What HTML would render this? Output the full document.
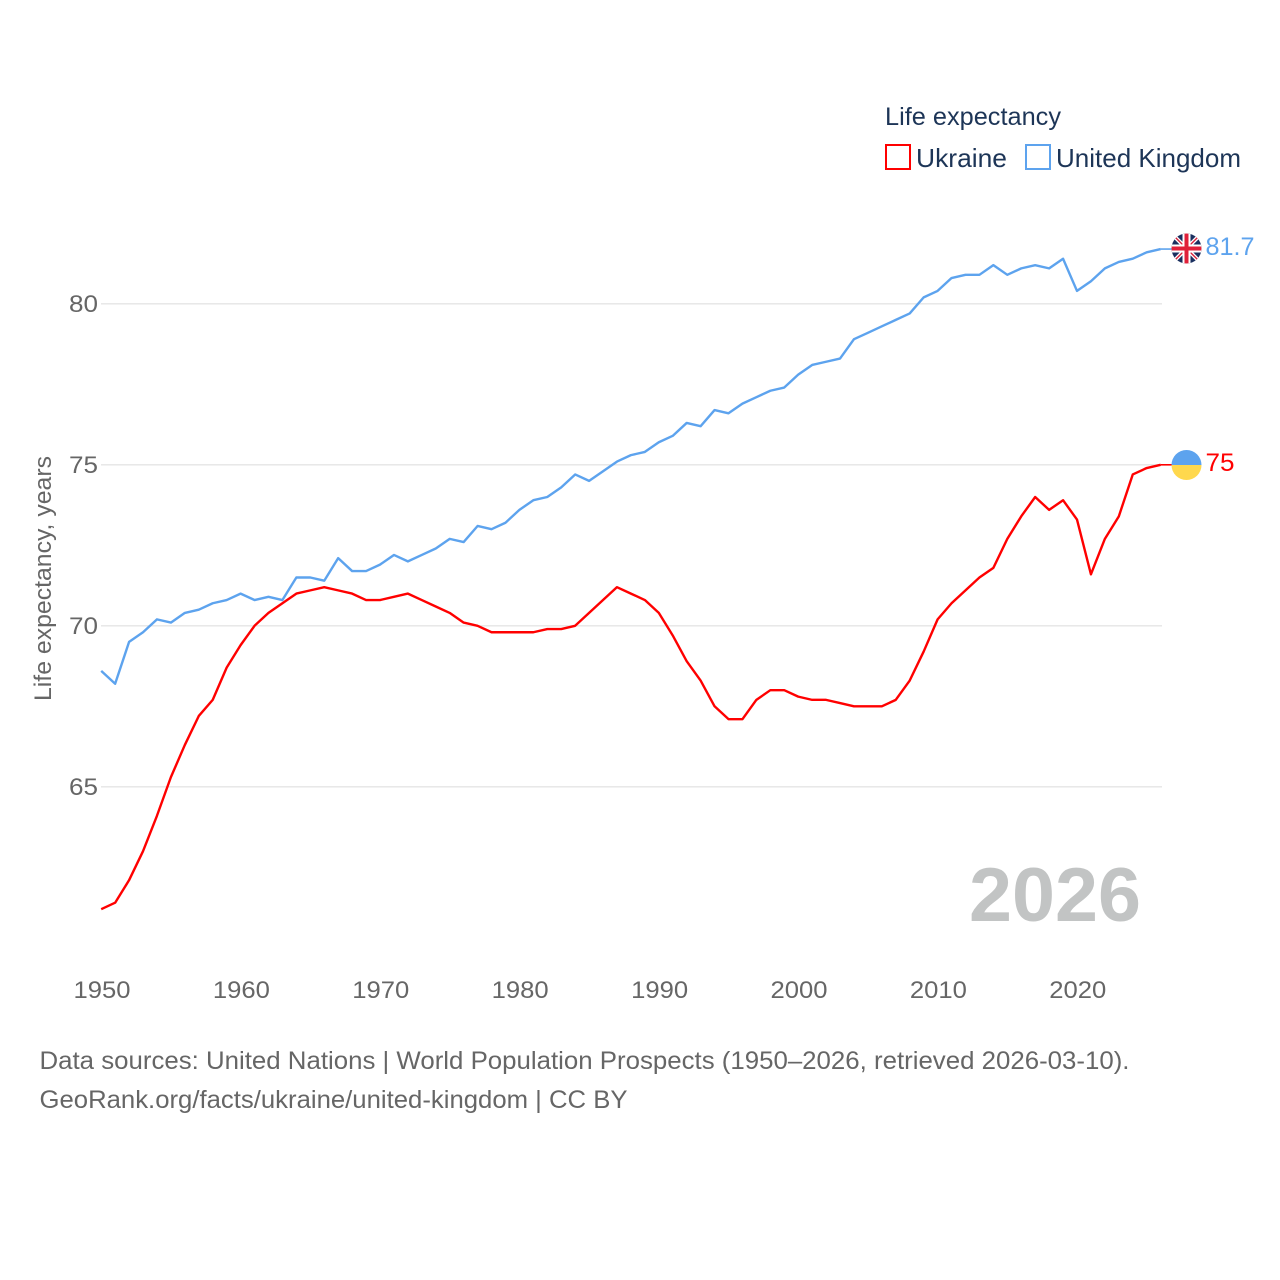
<!DOCTYPE html>
<html lang="en">
<head>
<meta charset="utf-8">
<title>Life expectancy: Ukraine vs United Kingdom</title>
<style>
html,body{margin:0;padding:0;background:#fff;}
svg{display:block;}
text{font-family:"Liberation Sans",sans-serif;}
</style>
</head>
<body>
<svg id="chart" width="1280" height="1280" viewBox="0 0 1280 1280" xmlns="http://www.w3.org/2000/svg">
  <rect width="1280" height="1280" fill="#ffffff"/>
  <g id="grid"></g>
  <g id="ylabels"></g>
  <g id="xlabels"></g>
  <text transform="translate(51,701) rotate(-90)" font-size="24" fill="#666666" textLength="245" lengthAdjust="spacingAndGlyphs">Life expectancy, years</text>
  <text x="969" y="921" font-size="76" font-weight="700" fill="#c2c4c4" textLength="172" lengthAdjust="spacingAndGlyphs">2026</text>
  <g id="series"></g>

  <g>
    <text x="885" y="125" font-size="25" fill="#1d3557" textLength="176" lengthAdjust="spacingAndGlyphs">Life expectancy</text>
    <rect x="886" y="145" width="24" height="24" fill="#fff" stroke="#ff0000" stroke-width="2"/>
    <text x="916" y="167" font-size="26" fill="#1d3557" textLength="91" lengthAdjust="spacingAndGlyphs">Ukraine</text>
    <rect x="1026" y="145" width="24" height="24" fill="#fff" stroke="#5da3ee" stroke-width="2"/>
    <text x="1056" y="167" font-size="26" fill="#1d3557" textLength="185" lengthAdjust="spacingAndGlyphs">United Kingdom</text>
  </g>

  <defs>
    <clipPath id="ukClip"><circle cx="1186.5" cy="248.5" r="15"/></clipPath>
    <clipPath id="uaClip"><circle cx="1186.5" cy="465" r="15"/></clipPath>
  </defs>
  <g clip-path="url(#ukClip)">
    <rect x="1171" y="233" width="31" height="31" fill="#1a2f5f"/>
    <path d="M1171 233L1202 264M1202 233L1171 264" stroke="#ffffff" stroke-width="4"/>
    <path d="M1171 233L1202 264M1202 233L1171 264" stroke="#d8203a" stroke-width="1.4"/>
    <rect x="1171" y="244.5" width="31" height="8" fill="#ffffff"/>
    <rect x="1182.5" y="233" width="8" height="31" fill="#ffffff"/>
    <rect x="1171" y="246.5" width="31" height="4" fill="#e0203a"/>
    <rect x="1184.5" y="233" width="4" height="31" fill="#e0203a"/>
  </g>
  <g clip-path="url(#uaClip)">
    <rect x="1171" y="450" width="31" height="15" fill="#5da3ee"/>
    <rect x="1171" y="465" width="31" height="16" fill="#ffd84d"/>
  </g>
  <text x="1205.5" y="255" font-size="25" fill="#5da3ee" textLength="49" lengthAdjust="spacingAndGlyphs">81.7</text>
  <text x="1205.5" y="471" font-size="25" fill="#ff0000" textLength="29" lengthAdjust="spacingAndGlyphs">75</text>

  <g>
    <text x="39.5" y="1069" font-size="25" fill="#666666" textLength="1090" lengthAdjust="spacingAndGlyphs">Data sources: United Nations | World Population Prospects (1950–2026, retrieved 2026-03-10).</text>
    <text x="39.5" y="1108" font-size="25" fill="#666666" textLength="588" lengthAdjust="spacingAndGlyphs">GeoRank.org/facts/ukraine/united-kingdom | CC BY</text>
  </g>
</svg>
<script>
const startYear = 1950;
const yTicks = [65, 70, 75, 80];
const xTicks = [1950, 1960, 1970, 1980, 1990, 2000, 2010, 2020];
const ukraine = [61.2,61.4,62.1,63.0,64.1,65.3,66.3,67.2,67.7,68.7,69.4,70.0,70.4,70.7,71.0,71.1,71.2,71.1,71.0,70.8,70.8,70.9,71.0,70.8,70.6,70.4,70.1,70.0,69.8,69.8,69.8,69.8,69.9,69.9,70.0,70.4,70.8,71.2,71.0,70.8,70.4,69.7,68.9,68.3,67.5,67.1,67.1,67.7,68.0,68.0,67.8,67.7,67.7,67.6,67.5,67.5,67.5,67.7,68.3,69.2,70.2,70.7,71.1,71.5,71.8,72.7,73.4,74.0,73.6,73.9,73.3,71.6,72.7,73.4,74.7,74.9,75.0];
const unitedKingdom = [68.6,68.2,69.5,69.8,70.2,70.1,70.4,70.5,70.7,70.8,71.0,70.8,70.9,70.8,71.5,71.5,71.4,72.1,71.7,71.7,71.9,72.2,72.0,72.2,72.4,72.7,72.6,73.1,73.0,73.2,73.6,73.9,74.0,74.3,74.7,74.5,74.8,75.1,75.3,75.4,75.7,75.9,76.3,76.2,76.7,76.6,76.9,77.1,77.3,77.4,77.8,78.1,78.2,78.3,78.9,79.1,79.3,79.5,79.7,80.2,80.4,80.8,80.9,80.9,81.2,80.9,81.1,81.2,81.1,81.4,80.4,80.7,81.1,81.3,81.4,81.6,81.7];

const NS = 'http://www.w3.org/2000/svg';
function xScale(year) { return 101.2 + (year - 1950) * 13.94; }
function yScale(v) { return 303.8 + (80 - v) * 32.2; }
function make(tag, attrs) {
  const el = document.createElementNS(NS, tag);
  for (const k in attrs) el.setAttribute(k, attrs[k]);
  return el;
}
const grid = document.getElementById('grid');
const ylabels = document.getElementById('ylabels');
const xlabels = document.getElementById('xlabels');
const series = document.getElementById('series');

yTicks.forEach(function (t) {
  const line = make('line', { x1: 101, x2: 1162, y1: yScale(t), y2: yScale(t), stroke: '#e4e4e4', 'stroke-width': 1.3 });
  
  
  grid.appendChild(line);
  const label = make('text', { x: 98, y: yScale(t) + 8, 'font-size': 24, fill: '#666666', 'text-anchor': 'end', textLength: 29, lengthAdjust: 'spacingAndGlyphs' });
  label.textContent = t;
  
  
  ylabels.appendChild(label);
});

xTicks.forEach(function (t) {
  const label = make('text', { x: xScale(t) + 0.8, y: 998, 'font-size': 24, fill: '#666666', 'text-anchor': 'middle', textLength: 57, lengthAdjust: 'spacingAndGlyphs' });
  label.textContent = t;
  
  
  xlabels.appendChild(label);
});

function drawSeries(values, color, name) {
  const pts = values.map(function (v, i) { return xScale(startYear + i).toFixed(2) + ',' + yScale(v).toFixed(2); });
  const line = make('polyline', { points: pts.join(' '), fill: 'none', stroke: color, 'stroke-width': 2.4, 'stroke-linejoin': 'round', 'stroke-linecap': 'butt' });
  
  
  series.appendChild(line);
  const last = values[values.length - 1];
  const lastX = xScale(startYear + values.length - 1);
  const conn = make('line', { x1: lastX, x2: 1172, y1: yScale(last), y2: yScale(last), stroke: color, 'stroke-width': 1.6 });
  
  
  series.appendChild(conn);
}
drawSeries(unitedKingdom, '#5da3ee', 'united-kingdom');
drawSeries(ukraine, '#ff0000', 'ukraine');
</script>
</body>
</html>
